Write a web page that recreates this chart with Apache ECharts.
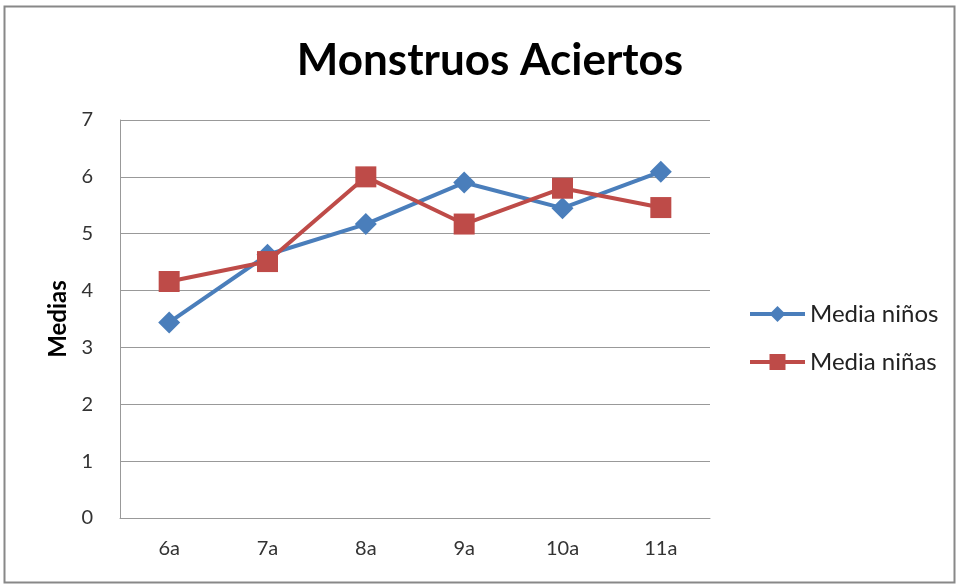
<!DOCTYPE html>
<html>
<head>
<meta charset="utf-8">
<script src="https://cdn.jsdelivr.net/npm/echarts@6/dist/echarts.min.js"></script>
<style>
  html, body { margin: 0; padding: 0; background: #fff; }
  #chart { width: 956px; height: 585px; }
</style>
</head>
<body>
<div id="chart"></div>
<script>
// Grupos de edad
const categories = ['6a', '7a', '8a', '9a', '10a', '11a'];
// Medias de aciertos por grupo
const mediaNinos = [3.44, 4.63, 5.17, 5.90, 5.45, 6.09];
const mediaNinas = [4.16, 4.51, 6.00, 5.17, 5.80, 5.46];
const yTicks = [0, 1, 2, 3, 4, 5, 6, 7];

const FONT = 'Lato, "Open Sans", "DejaVu Sans", sans-serif';
const BLUE = '#4A7EBB';
const RED = '#BE4B48';

const chart = echarts.init(document.getElementById('chart'), null, { renderer: 'canvas' });

chart.setOption({
  animation: false,
  backgroundColor: '#ffffff',
  graphic: [{
    type: 'rect',
    shape: { x: 4.5, y: 6.5, width: 950, height: 576 },
    style: { fill: 'none', stroke: '#888888', lineWidth: 2 },
    silent: true
  }],
  title: {
    text: 'Monstruos Aciertos',
    left: 485,
    top: 34,
    textAlign: 'center',
    textStyle: { fontFamily: FONT, fontWeight: 'bold', fontSize: 44, color: '#000' }
  },
  legend: {
    orient: 'vertical',
    left: 743,
    top: 297,
    itemGap: 24,
    itemWidth: 55,
    itemHeight: 20,
    lineStyle: { width: 4 },
    textStyle: { fontFamily: FONT, fontSize: 24, color: '#222' },
    data: ['Media niños', 'Media niñas']
  },
  grid: { left: 120, right: 246, top: 120, bottom: 67 },
  xAxis: {
    type: 'category',
    data: categories,
    boundaryGap: true,
    axisLine: { lineStyle: { color: '#999999', width: 1 } },
    axisTick: { show: false },
    axisLabel: { fontFamily: FONT, fontSize: 20, color: '#333', margin: 21 }
  },
  yAxis: {
    type: 'value',
    min: yTicks[0],
    max: yTicks[yTicks.length - 1],
    interval: 1,
    name: 'Medias',
    nameLocation: 'middle',
    nameGap: 49,
    nameRotate: 90,
    nameTextStyle: { fontFamily: FONT, fontWeight: 'bold', fontSize: 24, color: '#000' },
    axisLine: { show: true, lineStyle: { color: '#999999', width: 1 } },
    axisTick: { show: false },
    splitLine: { lineStyle: { color: '#999999', width: 1 } },
    axisLabel: { fontFamily: FONT, fontSize: 20, color: '#333', margin: 27 }
  },
  series: [
    {
      name: 'Media niños',
      type: 'line',
      data: mediaNinos,
      symbol: 'diamond',
      symbolSize: 22,
      lineStyle: { color: BLUE, width: 4 },
      itemStyle: { color: BLUE },
      z: 2
    },
    {
      name: 'Media niñas',
      type: 'line',
      data: mediaNinas,
      symbol: 'rect',
      symbolSize: 21,
      lineStyle: { color: RED, width: 4 },
      itemStyle: { color: RED },
      z: 3
    }
  ]
});
</script>
</body>
</html>
